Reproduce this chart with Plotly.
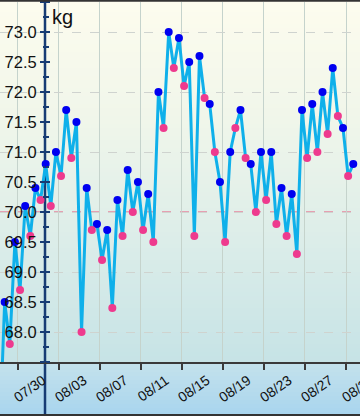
import plotly.graph_objects as go
from datetime import datetime, timedelta

# ---------------- data ----------------
YEAR = 2024
MORNING_FIRST_DAY = "2024-07-29"   # blue points (morning), one per day
EVENING_FIRST_DAY = "2024-07-28"   # pink points (evening), one per day
MORNING_TIME = "05:00"
EVENING_TIME = "17:00"

morning_kg = [68.5, 69.5, 70.1, 70.4, 70.8, 71.0, 71.7, 71.5, 70.4, 69.8,
              69.7, 70.2, 70.7, 70.5, 70.3, 72.0, 73.0, 72.9, 72.5, 72.6,
              71.8, 70.5, 71.0, 71.7, 70.8, 71.0, 71.0, 70.4, 70.3, 71.7,
              71.8, 72.0, 72.4, 71.4, 70.8]
evening_kg = [66.2, 67.8, 68.7, 69.6, 70.2, 70.1, 70.6, 70.9, 68.0, 69.7,
              69.2, 68.4, 69.6, 70.0, 69.7, 69.5, 71.4, 72.4, 72.1, 69.6,
              71.9, 71.0, 69.5, 71.4, 70.9, 70.0, 70.2, 69.8, 69.6, 69.3,
              70.9, 71.0, 71.3, 71.6, 70.6]
TARGET_KG = 70.0
UNIT = "kg"
X_TICK_START = "2024-07-26 12:00"
X_VIEW = ["2024-07-28 18:05", "2024-09-01 20:47"]
Y_VIEW = [67.5, 73.5]


def stamps(first_day, time, n):
    d0 = datetime.strptime(first_day + " " + time, "%Y-%m-%d %H:%M")
    return [d0 + timedelta(days=i) for i in range(n)]


morning_x = stamps(MORNING_FIRST_DAY, MORNING_TIME, len(morning_kg))
evening_x = stamps(EVENING_FIRST_DAY, EVENING_TIME, len(evening_kg))
combined = sorted(list(zip(morning_x, morning_kg)) + list(zip(evening_x, evening_kg)))
line_x = [c[0] for c in combined]
line_y = [c[1] for c in combined]

# ---------------- style ----------------
W, H = 360, 416
T, B = 2, 54
PH = H - T - B
NAVY = "#173c74"
FONT = "Liberation Sans, Arial, sans-serif"


def py(px):  # pixel row -> paper y
    return (H - B - px) / PH


def hex2rgb(h):
    h = h.lstrip("#")
    return [int(h[i:i + 2], 16) for i in (0, 2, 4)]


stops = [(0, "#fdfcee"), (120, "#f0f6ea"), (240, "#dcede9"), (362, "#c6e3e6"),
         (363, "#c4e2ec"), (416, "#a8d4ee")]


def color_at(p):
    for (a, ca), (b, cb) in zip(stops[:-1], stops[1:]):
        if a <= p <= b:
            t = 0 if b == a else (p - a) / (b - a)
            A, Bc = hex2rgb(ca), hex2rgb(cb)
            return "rgb(%d,%d,%d)" % tuple(round(A[i] + (Bc[i] - A[i]) * t) for i in range(3))
    return stops[-1][1]


shapes = []
step = 4
for p in range(0, H, step):
    shapes.append(dict(type="rect", xref="paper", yref="paper", x0=0, x1=1,
                       y0=py(min(p + step, H)), y1=py(p), layer="below",
                       fillcolor=color_at(p + step / 2), line=dict(width=0)))
# vertical y-axis line through the whole chart
shapes.append(dict(type="line", xref="paper", yref="paper", x0=45 / W, x1=45 / W,
                   y0=py(416), y1=py(0), layer="below", line=dict(color=NAVY, width=2.5)))
# top and bottom borders
shapes.append(dict(type="line", xref="paper", yref="paper", x0=0, x1=1,
                   y0=py(0.8), y1=py(0.8), line=dict(color="#333333", width=2)))
shapes.append(dict(type="line", xref="paper", yref="paper", x0=0, x1=1,
                   y0=py(415), y1=py(415), line=dict(color="#333333", width=2)))
# target line
shapes.append(dict(type="line", xref="paper", yref="y", x0=0, x1=1,
                   y0=TARGET_KG, y1=TARGET_KG, layer="between",
                   line=dict(color="#e8879f", width=1.5, dash="dash")))

fig = go.Figure()
fig.add_trace(go.Scatter(x=line_x, y=line_y, mode="lines",
                         line=dict(color="#0fb0ea", width=3), hoverinfo="skip",
                         xaxis="x", yaxis="y"))
fig.add_trace(go.Scatter(x=morning_x, y=morning_kg, mode="markers",
                         marker=dict(color="#0000f0", size=8), hoverinfo="skip",
                         xaxis="x", yaxis="y2"))
fig.add_trace(go.Scatter(x=evening_x, y=evening_kg, mode="markers",
                         marker=dict(color="#ee3a8e", size=8), hoverinfo="skip",
                         xaxis="x", yaxis="y3"))

fig.update_layout(
    width=W, height=H,
    margin=dict(l=0, r=0, t=T, b=B, autoexpand=False),
    paper_bgcolor="white", plot_bgcolor="rgba(0,0,0,0)",
    showlegend=False, hovermode=False,
    shapes=shapes,
    xaxis=dict(type="date", range=X_VIEW, tickmode="linear", tick0=X_TICK_START,
               dtick=4 * 86400000, tickformat="%m/%d", tickangle=-35,
               tickfont=dict(family=FONT, size=14, color="#111111"),
               ticklabelshift=25, ticklabelstandoff=-3, ticklabeloverflow="allow",
               automargin=False,
               showgrid=True, gridcolor="#c5d3cc", gridwidth=1,
               showline=True, linecolor="#3a3a3a", linewidth=2,
               ticks="outside", ticklen=6, tickwidth=2, tickcolor="#3a3a3a",
               zeroline=False, fixedrange=True),
    yaxis=dict(range=Y_VIEW, tickmode="linear", tick0=68, dtick=1, automargin=False,
               showgrid=True, gridcolor="#cfd3cf", griddash="dash", gridwidth=1,
               showticklabels=False, ticks="", showline=False, zeroline=False),
    yaxis2=dict(overlaying="y", matches="y", anchor="free", position=45 / W, side="left",
                automargin=False,
                tickmode="linear", tick0=67.5, dtick=0.5, tickformat=".1f",
                labelalias={"67.5": ""},
                tickfont=dict(family=FONT, size=16.5, color="#111111"),
                ticks="outside", ticklen=5, tickwidth=2, tickcolor=NAVY,
                minor=dict(ticks="outside", ticklen=2.5, tickwidth=1.5, tickcolor=NAVY,
                           tick0=67.5, dtick=0.25, showgrid=False),
                showgrid=False, showline=False, zeroline=False),
    yaxis3=dict(overlaying="y", matches="y", anchor="free", position=45 / W, side="right",
                automargin=False,
                tickmode="linear", tick0=67.5, dtick=0.5, showticklabels=False,
                ticks="outside", ticklen=4, tickwidth=2, tickcolor=NAVY,
                minor=dict(ticks="outside", ticklen=2.5, tickwidth=1.5, tickcolor=NAVY,
                           tick0=67.5, dtick=0.25, showgrid=False),
                showgrid=False, showline=False, zeroline=False),
    annotations=[dict(text=UNIT, xref="paper", yref="paper", x=50 / W, y=py(17),
                      xanchor="left", yanchor="middle", showarrow=False,
                      font=dict(family=FONT, size=20, color="#111111"))],
)

fig.write_html("out.html", config={"displayModeBar": False},
               post_script="document.body.style.margin='0';document.body.style.overflow='hidden';")
